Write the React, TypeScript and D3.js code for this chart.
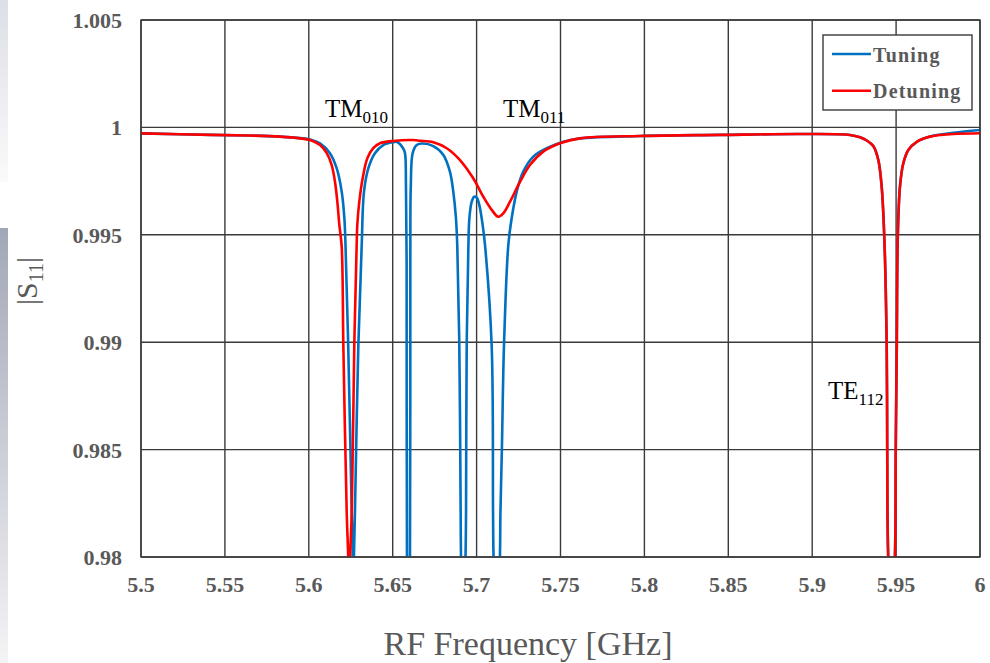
import React from 'react';
import * as d3 from 'd3';

// axis ticks
const freqTicks = [5.5, 5.55, 5.6, 5.65, 5.7, 5.75, 5.8, 5.85, 5.9, 5.95, 6];
const freqTickLabels = ['5.5', '5.55', '5.6', '5.65', '5.7', '5.75', '5.8', '5.85', '5.9', '5.95', '6'];
const s11Ticks = [0.98, 0.985, 0.99, 0.995, 1, 1.005];
const s11TickLabels = ['0.98', '0.985', '0.99', '0.995', '1', '1.005'];

// Tuning (blue) |S11| vs frequency
const tuningFreq = [
  5.5, 5.5417, 5.565, 5.5828, 5.5948, 5.6007, 5.6067, 5.6126, 5.6166, 5.6196, 5.6212, 5.6219,
  5.6235, 5.6256, 5.6262, 5.6265, 5.6269, 5.6275, 5.6295, 5.6315, 5.6329, 5.6355, 5.6394, 5.6444,
  5.6504, 5.6526, 5.6561, 5.6573, 5.6579, 5.6583, 5.6585, 5.6594, 5.6603, 5.6605, 5.6608, 5.6619,
  5.6643, 5.6677, 5.6742, 5.6802, 5.6841, 5.6861, 5.6877, 5.6885, 5.6897, 5.6905, 5.6907, 5.6919,
  5.6934, 5.6937, 5.6941, 5.6951, 5.6957, 5.6971, 5.6986, 5.7001, 5.7016, 5.7036, 5.705, 5.709,
  5.7098, 5.7101, 5.712, 5.7139, 5.7142, 5.7151, 5.7163, 5.7189, 5.7209, 5.7239, 5.7278, 5.7338,
  5.7418, 5.7517, 5.7616, 5.7974, 5.8451, 5.8927, 5.9225, 5.9285, 5.9325, 5.9364, 5.9394, 5.9414,
  5.943, 5.9444, 5.9447, 5.9453, 5.9474, 5.9493, 5.9498, 5.9504, 5.951, 5.9523, 5.9543, 5.9573,
  5.9623, 5.9702, 5.9841, 6.0,
];
const tuningS11 = [
  0.99972, 0.99965, 0.99962, 0.99957, 0.9995, 0.99944, 0.99926, 0.9988, 0.9981, 0.99701, 0.99577, 0.99445,
  0.98979, 0.98205, 0.98002, 0.978, 0.98002, 0.98205, 0.98979, 0.99445, 0.99701, 0.9981, 0.9988, 0.99918,
  0.99931, 0.99932, 0.99904, 0.99881, 0.99732, 0.99383, 0.98002, 0.9757, 0.98002, 0.99383, 0.99732, 0.9988,
  0.99918, 0.99925, 0.99913, 0.99872, 0.99794, 0.99701, 0.99577, 0.99445, 0.98979, 0.98205, 0.98002, 0.9761,
  0.98002, 0.98205, 0.98979, 0.99445, 0.99577, 0.99654, 0.99677, 0.99673, 0.99639, 0.99546, 0.99453, 0.98979,
  0.98205, 0.98002, 0.9761, 0.98002, 0.98205, 0.98514, 0.98979, 0.99453, 0.99577, 0.99701, 0.99794, 0.99864,
  0.99903, 0.99933, 0.99949, 0.9996, 0.99965, 0.99969, 0.99965, 0.99954, 0.99939, 0.99913, 0.99848, 0.99724,
  0.9948, 0.98979, 0.98514, 0.98002, 0.977, 0.98002, 0.98514, 0.98979, 0.99491, 0.99724, 0.99833, 0.99895,
  0.99933, 0.99958, 0.99975, 0.99988,
];

// Detuning (red)
const detuningFreq = [
  5.5, 5.5417, 5.565, 5.5828, 5.5948, 5.6007, 5.6067, 5.6107, 5.6136, 5.6156, 5.617, 5.6182,
  5.6196, 5.6206, 5.6226, 5.6235, 5.624, 5.6246, 5.6256, 5.6271, 5.6285, 5.6289, 5.6301, 5.6321,
  5.6349, 5.6384, 5.6424, 5.6504, 5.6623, 5.6663, 5.6742, 5.6822, 5.6901, 5.698, 5.704, 5.709,
  5.7129, 5.7159, 5.7199, 5.7259, 5.7318, 5.7397, 5.7497, 5.7616, 5.7974, 5.8451, 5.8927, 5.9225,
  5.9285, 5.9325, 5.9364, 5.9394, 5.9414, 5.943, 5.9444, 5.9447, 5.9453, 5.9474, 5.9493, 5.9498,
  5.9504, 5.951, 5.9523, 5.9543, 5.9573, 5.9623, 5.9702, 5.9841, 6.0,
];
const detuningS11 = [
  0.99972, 0.99965, 0.99962, 0.99957, 0.99949, 0.99941, 0.99918, 0.9988, 0.99825, 0.99747, 0.99654, 0.99546,
  0.99445, 0.98979, 0.98205, 0.98002, 0.978, 0.98002, 0.98205, 0.98979, 0.99445, 0.99546, 0.99654, 0.99763,
  0.99856, 0.99903, 0.99926, 0.99937, 0.99941, 0.99938, 0.99931, 0.99903, 0.99848, 0.99763, 0.99677, 0.99616,
  0.99584, 0.996, 0.99654, 0.99747, 0.99825, 0.99887, 0.99926, 0.99949, 0.9996, 0.99965, 0.99969, 0.99965,
  0.99954, 0.99939, 0.99913, 0.99848, 0.99724, 0.9948, 0.98979, 0.98514, 0.98002, 0.977, 0.98002, 0.98514,
  0.98979, 0.99491, 0.99724, 0.99833, 0.99895, 0.99933, 0.99957, 0.99969, 0.99973,
];

const seriesNames = ['Tuning', 'Detuning'];
const seriesColors = ['#0070C0', '#FF0000'];

const serif = '"Liberation Serif", "Times New Roman", serif';
const grey = '#595959';
const gridColor = '#3a3a3a';

const App = () => {
  const width = 990;
  const height = 663;
  const plot = { left: 141, right: 980, top: 20, bottom: 557 };

  const x = d3.scaleLinear().domain([5.5, 6]).range([plot.left, plot.right]);
  const y = d3.scaleLinear().domain([0.98, 1.005]).range([plot.bottom, plot.top]);

  const line = d3.line<[number, number]>()
    .x(d => x(d[0]))
    .y(d => y(d[1]))
    .curve(d3.curveCatmullRom.alpha(0.5));

  const tuning = tuningFreq.map((f, i) => [f, tuningS11[i]] as [number, number]);
  const detuning = detuningFreq.map((f, i) => [f, detuningS11[i]] as [number, number]);

  return (
    <svg width={width} height={height} style={{ position: 'absolute', left: 0, top: 0, background: '#fff' }}>
      <defs>
        <linearGradient id="stripTop" x1="0" y1="0" x2="0" y2="1">
          <stop offset="0%" stopColor="#dcdfe6" />
          <stop offset="100%" stopColor="#fafafb" />
        </linearGradient>
        <linearGradient id="stripBottom" x1="0" y1="0" x2="0" y2="1">
          <stop offset="0%" stopColor="#a2a7b7" />
          <stop offset="100%" stopColor="#f4f4f6" />
        </linearGradient>
        <clipPath id="plotClip">
          <rect x={plot.left} y={plot.top} width={plot.right - plot.left} height={plot.bottom - plot.top} />
        </clipPath>
      </defs>

      {/* left edge strip */}
      <rect x={0} y={0} width={8} height={182} fill="url(#stripTop)" />
      <rect x={0} y={228} width={8} height={435} fill="url(#stripBottom)" />

      {/* grid */}
      <g stroke={gridColor} strokeWidth={1.4}>
        {freqTicks.map(t => (
          <line key={'gx' + t} x1={x(t)} x2={x(t)} y1={plot.top} y2={plot.bottom} />
        ))}
        {s11Ticks.map(t => (
          <line key={'gy' + t} x1={plot.left} x2={plot.right} y1={y(t)} y2={y(t)} />
        ))}
      </g>

      {/* curves */}
      <g clipPath="url(#plotClip)" fill="none" strokeWidth={2.6} strokeLinejoin="round">
        <path d={line(tuning) || ''} stroke={seriesColors[0]} />
        <path d={line(detuning) || ''} stroke={seriesColors[1]} />
      </g>

      {/* frame */}
      <rect x={plot.left} y={plot.top} width={plot.right - plot.left} height={plot.bottom - plot.top}
        fill="none" stroke={gridColor} strokeWidth={1.4} />

      {/* tick labels */}
      <g fontFamily={serif} fontWeight="bold" fontSize={22} fill={grey}>
        {s11Ticks.map((t, i) => (
          <text key={'ly' + t} x={122} y={y(t) + 8} textAnchor="end">{s11TickLabels[i]}</text>
        ))}
        {freqTicks.map((t, i) => (
          <text key={'lx' + t} x={x(t)} y={592} textAnchor="middle">{freqTickLabels[i]}</text>
        ))}
      </g>

      {/* axis titles */}
      <text x={528} y={655} textAnchor="middle" fontFamily={serif} fontSize={34} fill={grey}>
        RF Frequency [GHz]
      </text>
      <text transform="translate(37,281) rotate(-90)" textAnchor="middle" fontFamily={serif} fontSize={30} fill={grey}>
        |S<tspan dy={6} fontSize={20}>11</tspan><tspan dy={-6}>|</tspan>
      </text>

      {/* mode annotations */}
      <g fontFamily={serif} fontSize={25} fill="#000">
        <text x={325} y={117}>TM<tspan dy={6} fontSize={17}>010</tspan></text>
        <text x={503} y={117}>TM<tspan dy={6} fontSize={17}>011</tspan></text>
        <text x={828} y={399}>TE<tspan dy={6} fontSize={17}>112</tspan></text>
      </g>

      {/* legend */}
      <rect x={823} y={35} width={149} height={75} fill="#fff" stroke={gridColor} strokeWidth={1.4} />
      {seriesNames.map((name, i) => (
        <g key={name}>
          <line x1={832} x2={871} y1={54 + i * 36.7} y2={54 + i * 36.7} stroke={seriesColors[i]} strokeWidth={2.6} />
          <text x={873} y={61.5 + i * 36.7} fontFamily={serif} fontWeight="bold" fontSize={20}
            letterSpacing={1.2} fill={grey}>{name}</text>
        </g>
      ))}
    </svg>
  );
};

export default App;
